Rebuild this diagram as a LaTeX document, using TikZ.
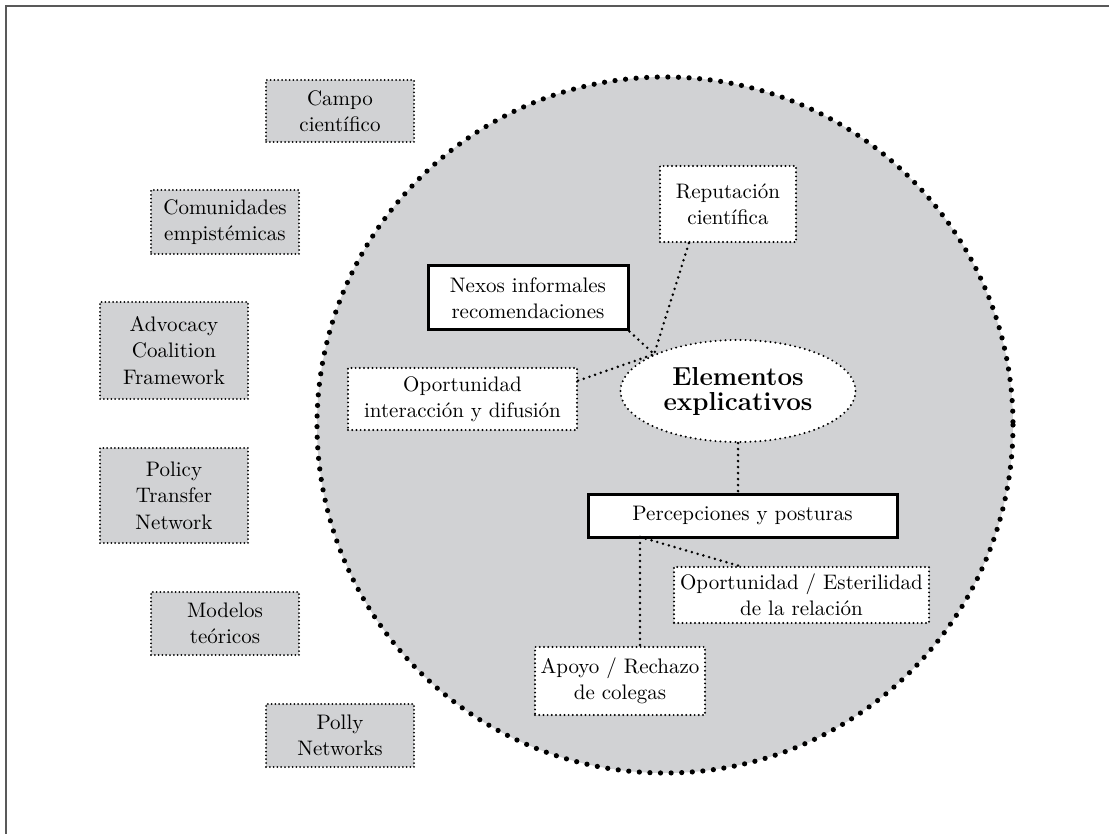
\documentclass[tikz,border=0pt]{standalone}
\usepackage{tikz}
\usetikzlibrary{shapes.geometric}
\definecolor{fondo}{RGB}{209,210,212}

\begin{document}
\begin{tikzpicture}[x=0.5pt,y=-0.5pt]
\tikzstyle{texto}=[align=center, inner sep=0pt, font=\fontsize{10.5}{13.2}\selectfont]
\tikzstyle{teoria}=[texto, rectangle, fill=fondo, draw=black, line width=1pt, dash pattern=on 0pt off 1.9pt, line cap=round, minimum width=74pt]
\tikzstyle{punteado}=[texto, rectangle, fill=white, draw=black, line width=1.1pt, dash pattern=on 0pt off 2.1pt, line cap=round]
\tikzstyle{solido}=[texto, rectangle, fill=white, draw=black, line width=1.5pt]
\tikzstyle{link}=[line width=1.4pt, dash pattern=on 0pt off 3pt, line cap=round]
  \useasboundingbox (0,0) rectangle (1109,834);
  \draw[black!65, line width=1pt] (6,834) -- (6,6) -- (1109,6);
  % circulo de fondo
  \draw[fill=fondo, line width=2.6pt, dash pattern=on 0pt off 5.3pt, line cap=round] (665,425) circle [radius=348];
  % modelos teoricos a la izquierda
  \node[teoria, minimum height=31pt] (campo) at (340,111) {Campo\\científico};
  \node[teoria, minimum height=32pt] (comunidades) at (225,222) {Comunidades\\empistémicas};
  \node[teoria, minimum height=48.5pt] (advocacy) at (174,350.5) {Advocacy\\Coalition\\Framework};
  \node[teoria, minimum height=47.5pt] (policy) at (174,495.5) {Policy\\Transfer\\Network};
  \node[teoria, minimum height=31.5pt] (modelos) at (225,623.5) {Modelos\\teóricos};
  \node[teoria, minimum height=31.5pt] (polly) at (340,735.5) {Polly\\Networks};
  % elementos dentro del circulo
  \node[punteado, minimum width=68pt, minimum height=38pt] (reputacion) at (728,204) {Reputación\\científica};
  \node[solido, minimum width=100pt, minimum height=32pt] (nexos) at (528,298) {Nexos informales\\recomendaciones};
  \node[punteado, minimum width=114.5pt, minimum height=31pt] (oportunidad) at (462.5,399) {Oportunidad\\interacción y difusión};
  \node[ellipse, fill=white, draw=black, line width=1.1pt, dash pattern=on 0pt off 2.5pt, line cap=round, inner sep=0pt,
        minimum width=117.5pt, minimum height=51pt, align=center, font=\fontsize{13}{12.5}\selectfont\bfseries] (elementos) at (738,391) {Elementos\\explicativos};
  \node[solido, minimum width=154.5pt, minimum height=21.5pt] (percepciones) at (742.5,515.5) {Percepciones y posturas};
  \node[punteado, minimum width=127.5pt, minimum height=28pt] (esterilidad) at (801.5,595) {Oportunidad / Esterilidad\\de la relación};
  \node[punteado, minimum width=85pt, minimum height=34pt] (apoyo) at (620,681) {Apoyo / Rechazo\\de colegas};
  \coordinate (nudo) at (elementos.north west);
  \coordinate (bifur) at (640,537);
  \path (reputacion.225) edge [link] (nudo)
        (nexos.south east) edge [link] (nudo)
        (oportunidad.9) edge [link] (nudo)
        (elementos.south) edge [link] (elementos.south |- percepciones.north)
        (bifur) edge [link] (bifur |- apoyo.north)
        (bifur) edge [link] (esterilidad.155);
\end{tikzpicture}
\end{document}
